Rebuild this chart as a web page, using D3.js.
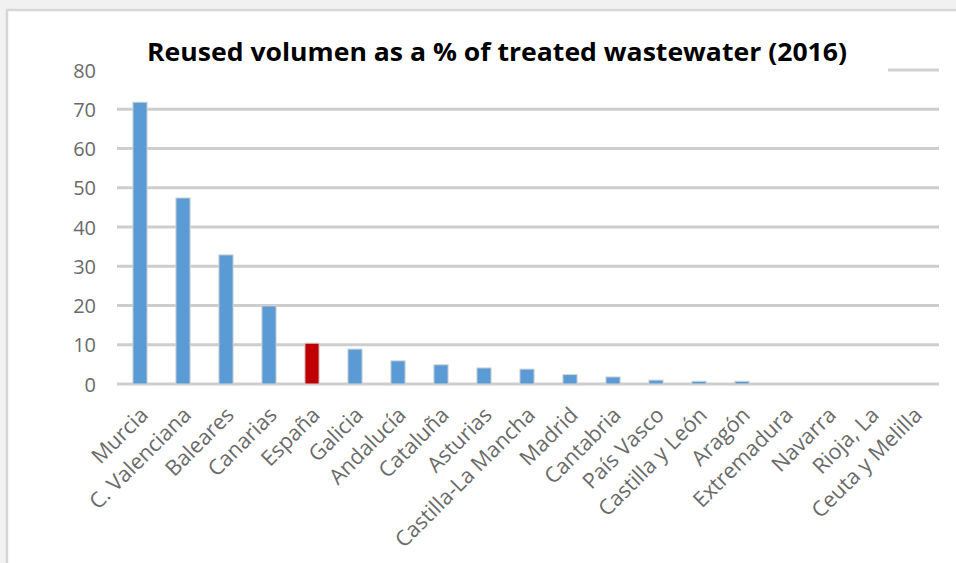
<!DOCTYPE html>
<head>
<meta charset="utf-8">
<style>
  html, body { margin: 0; padding: 0; background: #f1f1f1; }
  svg { display: block; }
  .grid line { stroke: #cdcdcd; stroke-width: 3; }
  .axis text { fill: #6a6a6a; font-family: 'Open Sans', sans-serif; }
  .axis path, .axis line { display: none; }
</style>
<title>Reused volumen</title>
</head>
<body>
<svg width="956" height="563"></svg>
<script src="https://cdn.jsdelivr.net/npm/d3@7"></script>
<script>

var regions = ["Murcia", "C. Valenciana", "Baleares", "Canarias", "España", "Galicia",
  "Andalucía", "Cataluña", "Asturias", "Castilla-La Mancha", "Madrid", "Cantabria",
  "País Vasco", "Castilla y León", "Aragón", "Extremadura", "Navarra", "Rioja, La", "Ceuta y Melilla"];
var reused = [71.8, 47.4, 32.9, 19.9, 10.4, 8.9, 5.9, 4.9, 4.1, 3.8, 2.4, 1.8,
  1.0, 0.7, 0.7, 0, 0, 0, 0];
var yTicks = [0, 10, 20, 30, 40, 50, 60, 70, 80];
var highlight = "España";

var svg = d3.select("svg");

// chart frame
svg.append("rect")
    .attr("x", 7).attr("y", 10)
    .attr("width", 960).attr("height", 570)
    .attr("fill", "#fff")
    .attr("stroke", "#d6d6d6")
    .attr("stroke-width", 2.5);

var x = d3.scaleBand().domain(regions).range([118.5, 935.5]).paddingInner(0.67).paddingOuter(0.335),
    y = d3.scaleLinear().domain([0, 80]).range([384, 70]);

// gridlines (no line at 80)
svg.append("g").attr("class", "grid")
  .selectAll("line")
  .data(yTicks.filter(function(d) { return d < 80; }))
  .enter().append("line")
    .attr("x1", 117).attr("x2", 939)
    .attr("y1", function(d) { return y(d); })
    .attr("y2", function(d) { return y(d); });

// stray legend stub at top right
svg.append("line")
    .attr("x1", 888).attr("x2", 939)
    .attr("y1", 70).attr("y2", 70)
    .attr("stroke", "#d0d0d0").attr("stroke-width", 3);

svg.append("g")
    .attr("class", "axis")
    .attr("transform", "translate(104,0)")
    .call(d3.axisLeft(y).tickValues(yTicks).tickSize(0).tickPadding(8))
  .selectAll("text")
    .style("font-size", "20px")
    .attr("dy", "0.35em");

svg.selectAll(".bar")
  .data(regions)
  .enter().append("rect")
    .attr("class", "bar")
    .attr("x", function(d) { return x(d); })
    .attr("width", x.bandwidth())
    .attr("y", function(d, i) { return y(reused[i]); })
    .attr("height", function(d, i) { return y(0) - y(reused[i]); })
    .attr("fill", function(d) { return d === highlight ? "#c00000" : "#5b9bd5"; })
    .attr("stroke", "#d4d4d4")
    .attr("stroke-width", 1);

var xAxis = svg.append("g")
    .attr("class", "axis")
    .attr("transform", "translate(0,384)")
    .call(d3.axisBottom(x).tickSize(0).tickPadding(0));

xAxis.selectAll("text")
    .style("font-size", "21.5px")
    .attr("text-anchor", "end")
    .attr("dy", "0.35em")
    .attr("transform", "translate(4,27) rotate(-45)")
    .attr("y", 0).attr("x", 0);

svg.append("text")
    .attr("x", 497).attr("y", 61)
    .attr("text-anchor", "middle")
    .style("font-family", "'Open Sans', sans-serif")
    .style("font-weight", "bold")
    .style("font-size", "25px")
    .attr("textLength", 700)
    .attr("lengthAdjust", "spacingAndGlyphs")
    .text("Reused volumen as a % of treated wastewater (2016)");

</script>
</body>
